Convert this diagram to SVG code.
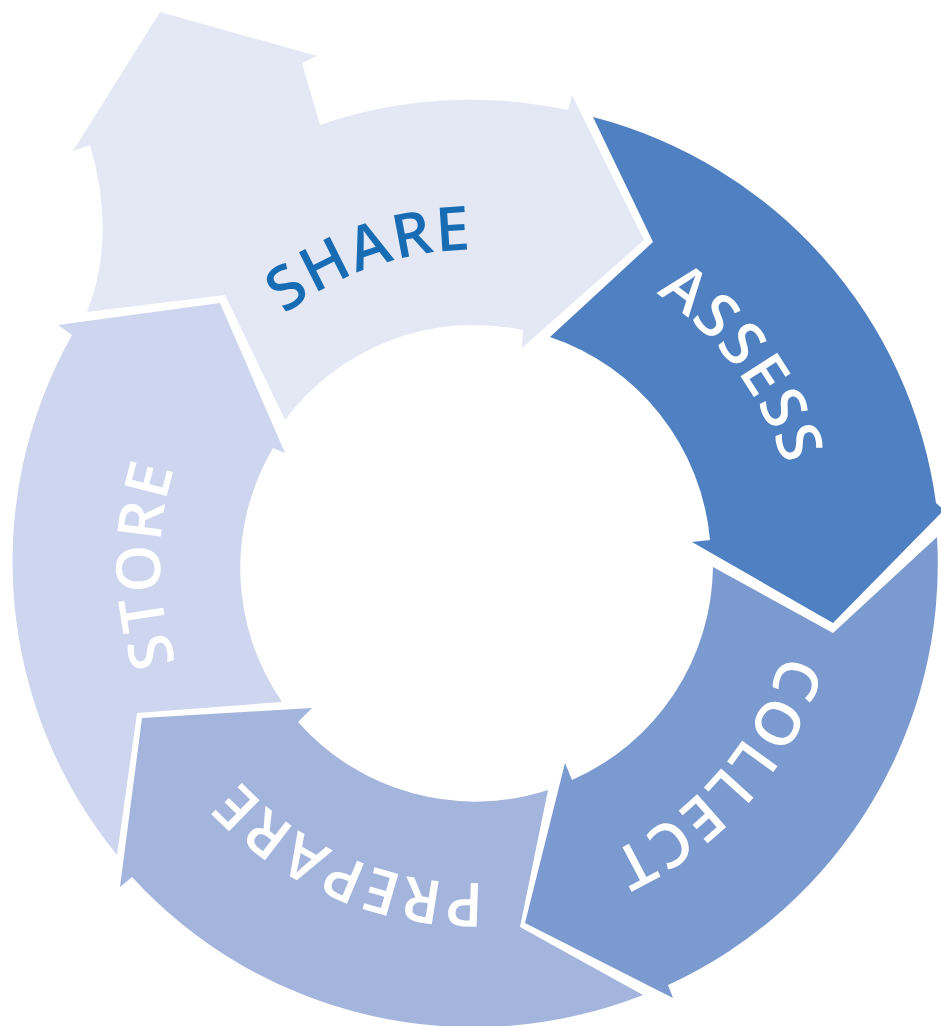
<svg xmlns="http://www.w3.org/2000/svg" width="941" height="1026" viewBox="0 0 941 1026">
<style>
.lbl{font-family:"Open Sans","Liberation Sans",sans-serif;font-weight:600;font-size:61px;letter-spacing:2px}
.w{fill:#ffffff}
.b{fill:#186CB4}
</style>
<defs>
<path id="pShare" d="M166.8,610.8 A312,312 0 0 1 747.9,410.7"/>
<path id="pAssess" d="M330.4,272.1 A324,324 0 0 1 710,785"/>
<path id="pCollect" d="M724.5,360 A321,321 0 0 1 309.7,837.2"/>
<path id="pPrepare" d="M744.2,736.8 A321,321 0 0 1 162.2,489.8"/>
<path id="pStore" d="M423,872.7 A315,315 0 0 1 417.6,252.3"/>
</defs>
<rect width="941" height="1026" fill="#ffffff"/>
<g id="share">
<path fill="#E4E8F5" d="M87,312 L225,295 L285,420 A236,236 0 0 1 523,330 L522,348 L644,240 L572,95 L568,110 A463,463 0 0 0 320,125 L302,63 L317,56 L160,12 L73,151 L90,145 Q117,236 87,312 Z"/>
<text class="lbl b"><textPath href="#pShare" startOffset="50%" text-anchor="middle">SHARE</textPath></text>
</g>
<g id="assess">
<path fill="#4F80C2" d="M593,117 L653,242 L550,337 A236,236 0 0 1 710,540 L692,542 L833,623 L944,510 L936,503 A463,463 0 0 0 593,117 Z"/>
<text class="lbl w"><textPath href="#pAssess" startOffset="50%" text-anchor="middle">ASSESS</textPath></text>
</g>
<g id="collect">
<path fill="#7B9ACF" d="M937,537 L833,633 L713,567 A236,236 0 0 1 572,780 L565,763 L525,923 L673,998 L668,985 A463,463 0 0 0 937,537 Z"/>
<text class="lbl w"><textPath href="#pCollect" startOffset="50%" text-anchor="middle">COLLECT</textPath></text>
</g>
<g id="prepare">
<path fill="#A3B5DC" d="M643,995 L520,927 L548,790 A236,236 0 0 1 298,722 L312,708 L142,718 L120,887 L132,877 A463,463 0 0 0 643,995 Z"/>
<text class="lbl w"><textPath href="#pPrepare" startOffset="50%" text-anchor="middle">PREPARE</textPath></text>
</g>
<g id="store">
<path fill="#CDD6EE" d="M117,855 L137,713 L282,702 A236,236 0 0 1 273,448 L285,453 L220,303 L58,325 L72,335 A463,463 0 0 0 117,855 Z"/>
<text class="lbl w"><textPath href="#pStore" startOffset="50%" text-anchor="middle">STORE</textPath></text>
</g>
<g id="connectors"></g>
</svg>
